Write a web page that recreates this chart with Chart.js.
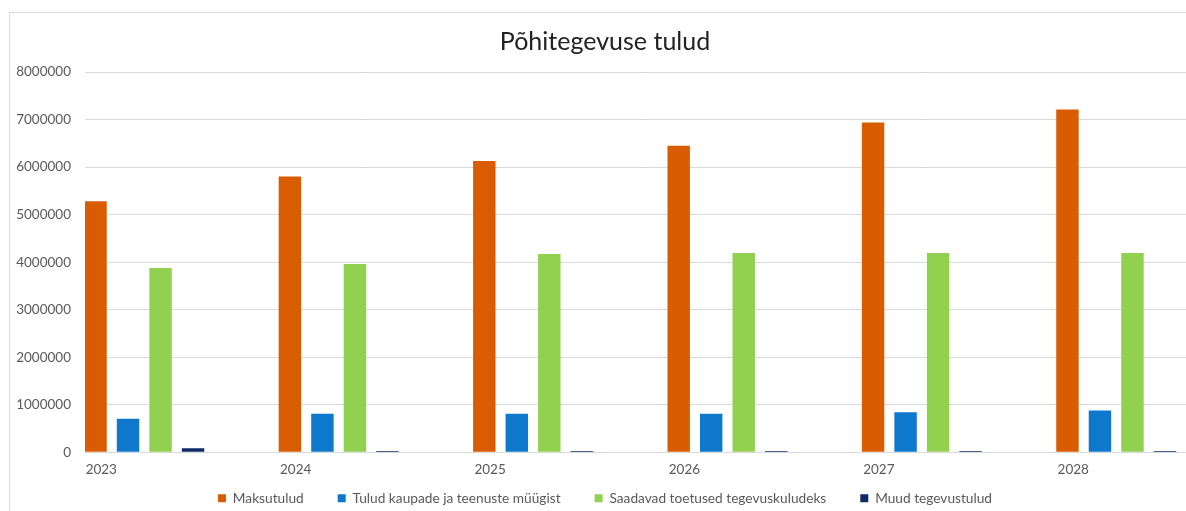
<!DOCTYPE html>
<html>
<head>
<meta charset="utf-8">
<script src="https://cdn.jsdelivr.net/npm/chart.js@4"></script>
<style>
  html, body { margin: 0; padding: 0; background: #fff; overflow: hidden; }
  #wrap { position: absolute; left: 9px; top: 12px; width: 1190px; height: 530px; border: 1px solid #d9d9d9; }
</style>
</head>
<body>
<div id="wrap"><canvas id="chart"></canvas></div>
<script>
const years = [2023, 2024, 2025, 2026, 2027, 2028];
const maksutulud = [5280000, 5800000, 6130000, 6450000, 6940000, 7210000];
const kaubad = [705000, 811000, 811000, 811000, 845000, 881000];
const toetused = [3875000, 3960000, 4170000, 4190000, 4190000, 4190000];
const muud = [85000, 25000, 25000, 25000, 25000, 25000];
const seriesNames = ["Maksutulud", "Tulud kaupade ja teenuste müügist", "Saadavad toetused tegevuskuludeks", "Muud tegevustulud"];
const colors = ["#da5c00", "#0e78cd", "#92d050", "#0f2a66"];

const font = "Lato, 'Open Sans', sans-serif";

let ctx = document.getElementById("chart");

let chart = new Chart(ctx, {
  type: "bar",
  data: {
    labels: years,
    datasets: [maksutulud, kaubad, toetused, muud].map((d, i) => ({
      label: seriesNames[i],
      data: d,
      backgroundColor: colors[i],
      borderWidth: 0,
      categoryPercentage: 0.669,
      barPercentage: 0.69,
    })),
  },
  options: {
    responsive: true,
    maintainAspectRatio: false,
    animation: false,
    layout: { padding: { left: 0, right: 0, top: 0, bottom: 28 } },
    plugins: {
      title: {
        display: true,
        text: "Põhitegevuse tulud",
        color: "#222",
        font: { family: font, size: 25, weight: "normal" },
        padding: { top: 14, bottom: 15 },
      },
      legend: {
        position: "bottom",
        // empty legend title with negative padding pulls the row up,
        // so labels.padding can give the wide gaps between items
        title: { display: true, text: "", font: { size: 1, lineHeight: 1 }, padding: { top: 0, bottom: -22 } },
        labels: {
          boxWidth: 8,
          boxHeight: 8,
          padding: 34,
          color: "#595959",
          font: { family: font, size: 13.7 },
        },
      },
      tooltip: { enabled: false },
    },
    scales: {
      x: {
        type: "linear",
        offset: false,
        min: 2022.695,
        max: 2028.431,
        grid: { display: false, drawTicks: false },
        border: { display: false },
        afterBuildTicks: (s) => { s.ticks = years.map((v) => ({ value: v })); },
        afterFit: (s) => { s.height = 26; },
        ticks: {
          autoSkip: false,
          color: "#595959",
          font: { family: font, size: 13.5, lineHeight: 1 },
          padding: 11,
          labelOffset: -43,
          callback: (v) => String(v),
        },
      },
      y: {
        min: 0,
        max: 8000000,
        border: { display: false },
        grid: { color: "#d9d9d9", drawTicks: false },
        afterFit: (s) => { s.width = 75; },
        ticks: {
          stepSize: 1000000,
          color: "#595959",
          font: { family: font, size: 13.5 },
          padding: 14,
          callback: (v) => String(v),
        },
      },
    },
  },
});
</script>
</body>
</html>
